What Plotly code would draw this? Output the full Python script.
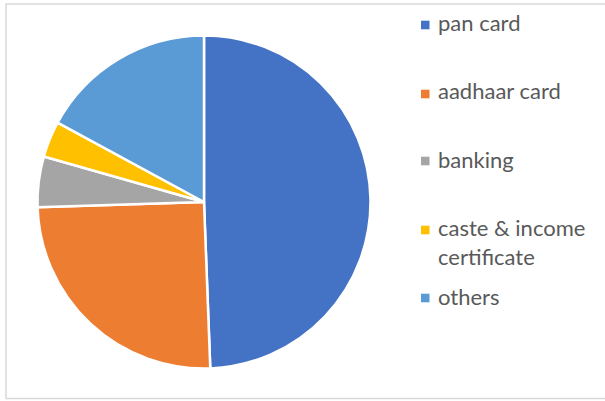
import plotly.graph_objects as go

# Share of applications by document type (%)
labels = ["pan card", "aadhaar card", "banking", "caste & income certificate", "others"]
legend_text = ["pan card", "aadhaar card", "banking", "caste & income<br>certificate", "others"]
values = [49.4, 25.1, 4.9, 3.5, 17.1]
colors = ["#4472C4", "#ED7D31", "#A5A5A5", "#FFC000", "#5B9BD5"]

W, H = 605, 401

fig = go.Figure(
    go.Pie(
        labels=labels,
        values=values,
        sort=False,
        direction="clockwise",
        rotation=0,
        marker=dict(colors=colors, line=dict(color="white", width=2.5)),
        textinfo="none",
        hoverinfo="label+percent",
        domain=dict(x=[37.5 / W, 370.5 / W], y=[1 - 368.5 / H, 1 - 35.5 / H]),
        showlegend=False,
    )
)

# Legend drawn as swatches plus text on the right
legend_y = [22, 91, 159, 242, 296]      # pixel centres of the text blocks
swatch_y = [25, 94, 161, 230, 298]
shapes = [
    dict(type="rect", xref="paper", yref="paper",
         x0=6 / W, x1=1.02, y0=1 - 398.5 / H, y1=1 - 4 / H,
         line=dict(color="#D9D9D9", width=1.5), fillcolor="rgba(0,0,0,0)", layer="below")
]
annotations = []
for txt, col, ty, sy in zip(legend_text, colors, legend_y, swatch_y):
    shapes.append(dict(type="rect", xref="paper", yref="paper",
                       x0=421 / W, x1=429.5 / W,
                       y0=1 - (sy + 4.3) / H, y1=1 - (sy - 4.3) / H,
                       fillcolor=col, line=dict(width=0)))
    annotations.append(dict(x=436 / W, y=1 - ty / H, xref="paper", yref="paper",
                            text=txt, showarrow=False, xanchor="left", yanchor="middle",
                            align="left",
                            font=dict(family="Lato, Carlito, Calibri, sans-serif", size=22, color="#595959")))

fig.update_layout(
    width=W, height=H,
    margin=dict(l=0, r=0, t=0, b=0),
    paper_bgcolor="white",
    plot_bgcolor="white",
    shapes=shapes,
    annotations=annotations,
)

fig.write_html("out.html")
